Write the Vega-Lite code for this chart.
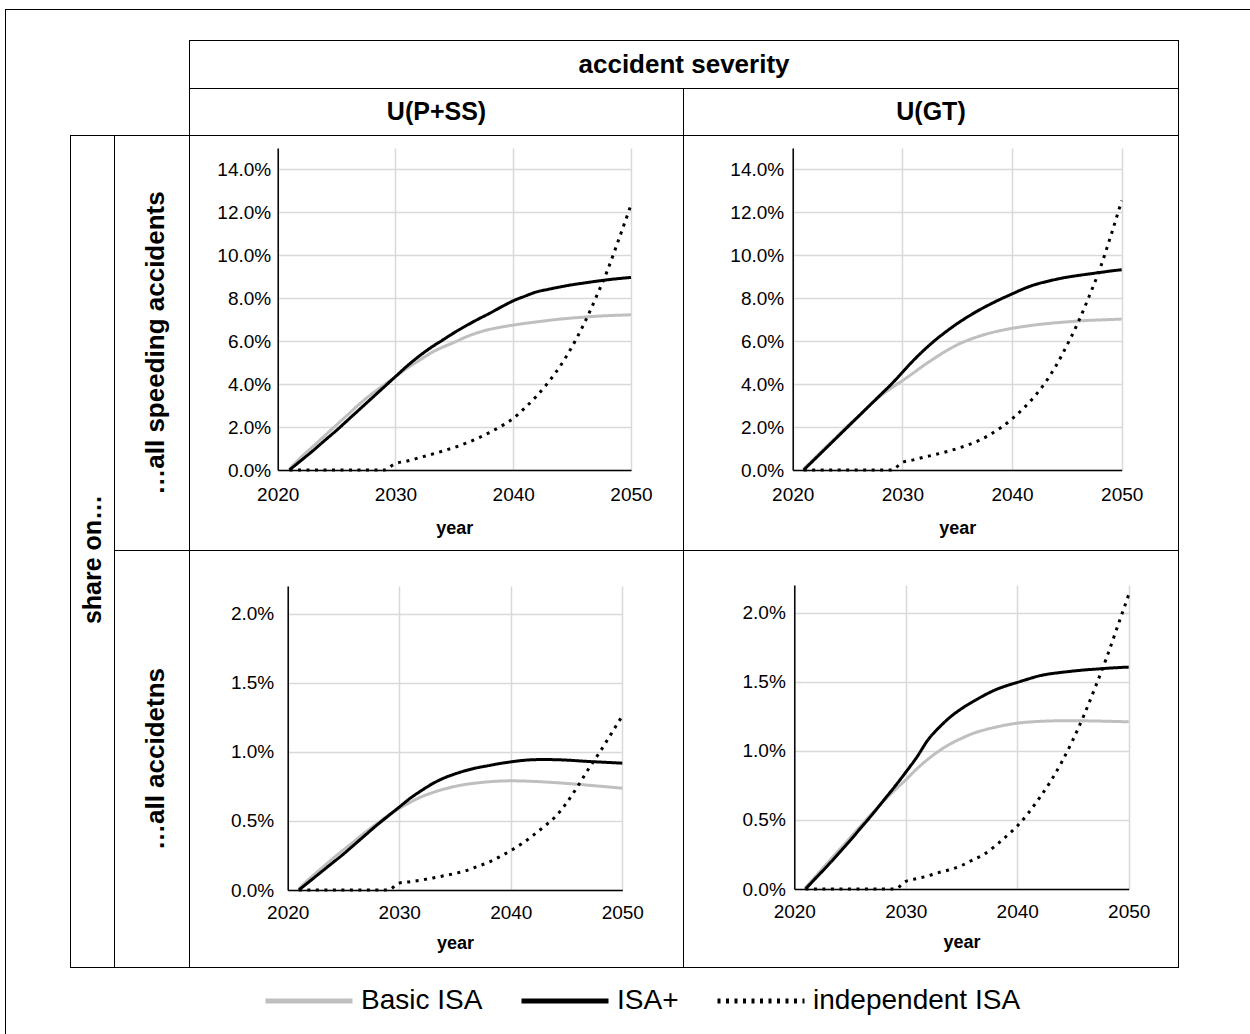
{
"$schema": "https://vega.github.io/schema/vega-lite/v6.json",
"padding": 0,
"background": "white",
"config": {
 "view": {"stroke": null},
 "font": "Liberation Sans",
 "concat": {"spacing": 0},
 "legend": {"orient": "none", "legendX": 263, "legendY": 955, "direction": "horizontal", "symbolType": "stroke", "symbolSize": 7569, "symbolStrokeWidth": 5, "labelFont": "Liberation Sans", "labelFontSize": 28, "labelColor": "#000", "labelOffset": 6, "columnPadding": 28, "padding": 0, "labelLimit": 400}
},
"datasets": {
"series": [
{"p":"a","s":"Basic ISA","year":2021,"v":0.05},{"p":"a","s":"Basic ISA","year":2022,"v":0.6},{"p":"a","s":"Basic ISA","year":2023,"v":1.1},{"p":"a","s":"Basic ISA","year":2024,"v":1.6},{"p":"a","s":"Basic ISA","year":2025,"v":2.1},{"p":"a","s":"Basic ISA","year":2026,"v":2.6},{"p":"a","s":"Basic ISA","year":2027,"v":3.1},{"p":"a","s":"Basic ISA","year":2028,"v":3.55},{"p":"a","s":"Basic ISA","year":2029,"v":3.95},{"p":"a","s":"Basic ISA","year":2030,"v":4.35},{"p":"a","s":"Basic ISA","year":2031,"v":4.75},{"p":"a","s":"Basic ISA","year":2032,"v":5.1},{"p":"a","s":"Basic ISA","year":2033,"v":5.45},{"p":"a","s":"Basic ISA","year":2034,"v":5.72},{"p":"a","s":"Basic ISA","year":2035,"v":5.95},{"p":"a","s":"Basic ISA","year":2036,"v":6.2},{"p":"a","s":"Basic ISA","year":2037,"v":6.4},{"p":"a","s":"Basic ISA","year":2038,"v":6.55},{"p":"a","s":"Basic ISA","year":2039,"v":6.66},{"p":"a","s":"Basic ISA","year":2040,"v":6.75},{"p":"a","s":"Basic ISA","year":2041,"v":6.83},{"p":"a","s":"Basic ISA","year":2042,"v":6.9},{"p":"a","s":"Basic ISA","year":2043,"v":6.97},{"p":"a","s":"Basic ISA","year":2044,"v":7.03},{"p":"a","s":"Basic ISA","year":2045,"v":7.08},{"p":"a","s":"Basic ISA","year":2046,"v":7.12},{"p":"a","s":"Basic ISA","year":2047,"v":7.16},{"p":"a","s":"Basic ISA","year":2048,"v":7.19},{"p":"a","s":"Basic ISA","year":2049,"v":7.21},{"p":"a","s":"Basic ISA","year":2050,"v":7.23},
{"p":"a","s":"ISA+","year":2021,"v":0},{"p":"a","s":"ISA+","year":2022,"v":0.45},{"p":"a","s":"ISA+","year":2023,"v":0.9},{"p":"a","s":"ISA+","year":2024,"v":1.38},{"p":"a","s":"ISA+","year":2025,"v":1.85},{"p":"a","s":"ISA+","year":2026,"v":2.35},{"p":"a","s":"ISA+","year":2027,"v":2.85},{"p":"a","s":"ISA+","year":2028,"v":3.35},{"p":"a","s":"ISA+","year":2029,"v":3.85},{"p":"a","s":"ISA+","year":2030,"v":4.35},{"p":"a","s":"ISA+","year":2031,"v":4.85},{"p":"a","s":"ISA+","year":2032,"v":5.3},{"p":"a","s":"ISA+","year":2033,"v":5.7},{"p":"a","s":"ISA+","year":2034,"v":6.05},{"p":"a","s":"ISA+","year":2035,"v":6.4},{"p":"a","s":"ISA+","year":2036,"v":6.72},{"p":"a","s":"ISA+","year":2037,"v":7.02},{"p":"a","s":"ISA+","year":2038,"v":7.3},{"p":"a","s":"ISA+","year":2039,"v":7.6},{"p":"a","s":"ISA+","year":2040,"v":7.88},{"p":"a","s":"ISA+","year":2041,"v":8.1},{"p":"a","s":"ISA+","year":2042,"v":8.3},{"p":"a","s":"ISA+","year":2043,"v":8.42},{"p":"a","s":"ISA+","year":2044,"v":8.53},{"p":"a","s":"ISA+","year":2045,"v":8.63},{"p":"a","s":"ISA+","year":2046,"v":8.71},{"p":"a","s":"ISA+","year":2047,"v":8.79},{"p":"a","s":"ISA+","year":2048,"v":8.86},{"p":"a","s":"ISA+","year":2049,"v":8.92},{"p":"a","s":"ISA+","year":2050,"v":8.97},
{"p":"a","s":"independent ISA","year":2021,"v":0},{"p":"a","s":"independent ISA","year":2022,"v":0},{"p":"a","s":"independent ISA","year":2023,"v":0},{"p":"a","s":"independent ISA","year":2024,"v":0},{"p":"a","s":"independent ISA","year":2025,"v":0},{"p":"a","s":"independent ISA","year":2026,"v":0},{"p":"a","s":"independent ISA","year":2027,"v":0},{"p":"a","s":"independent ISA","year":2028,"v":0},{"p":"a","s":"independent ISA","year":2029,"v":0},{"p":"a","s":"independent ISA","year":2030,"v":0.3},{"p":"a","s":"independent ISA","year":2031,"v":0.42},{"p":"a","s":"independent ISA","year":2032,"v":0.57},{"p":"a","s":"independent ISA","year":2033,"v":0.72},{"p":"a","s":"independent ISA","year":2034,"v":0.88},{"p":"a","s":"independent ISA","year":2035,"v":1.05},{"p":"a","s":"independent ISA","year":2036,"v":1.25},{"p":"a","s":"independent ISA","year":2037,"v":1.48},{"p":"a","s":"independent ISA","year":2038,"v":1.75},{"p":"a","s":"independent ISA","year":2039,"v":2.05},{"p":"a","s":"independent ISA","year":2040,"v":2.4},{"p":"a","s":"independent ISA","year":2041,"v":2.9},{"p":"a","s":"independent ISA","year":2042,"v":3.45},{"p":"a","s":"independent ISA","year":2043,"v":4.1},{"p":"a","s":"independent ISA","year":2044,"v":4.85},{"p":"a","s":"independent ISA","year":2045,"v":5.75},{"p":"a","s":"independent ISA","year":2046,"v":6.8},{"p":"a","s":"independent ISA","year":2047,"v":8.0},{"p":"a","s":"independent ISA","year":2048,"v":9.3},{"p":"a","s":"independent ISA","year":2049,"v":10.8},{"p":"a","s":"independent ISA","year":2050,"v":12.35},
{"p":"b","s":"Basic ISA","year":2021,"v":0.05},{"p":"b","s":"Basic ISA","year":2022,"v":0.55},{"p":"b","s":"Basic ISA","year":2023,"v":1.05},{"p":"b","s":"Basic ISA","year":2024,"v":1.55},{"p":"b","s":"Basic ISA","year":2025,"v":2.05},{"p":"b","s":"Basic ISA","year":2026,"v":2.5},{"p":"b","s":"Basic ISA","year":2027,"v":3.0},{"p":"b","s":"Basic ISA","year":2028,"v":3.45},{"p":"b","s":"Basic ISA","year":2029,"v":3.82},{"p":"b","s":"Basic ISA","year":2030,"v":4.16},{"p":"b","s":"Basic ISA","year":2031,"v":4.52},{"p":"b","s":"Basic ISA","year":2032,"v":4.89},{"p":"b","s":"Basic ISA","year":2033,"v":5.23},{"p":"b","s":"Basic ISA","year":2034,"v":5.55},{"p":"b","s":"Basic ISA","year":2035,"v":5.83},{"p":"b","s":"Basic ISA","year":2036,"v":6.05},{"p":"b","s":"Basic ISA","year":2037,"v":6.23},{"p":"b","s":"Basic ISA","year":2038,"v":6.38},{"p":"b","s":"Basic ISA","year":2039,"v":6.5},{"p":"b","s":"Basic ISA","year":2040,"v":6.6},{"p":"b","s":"Basic ISA","year":2041,"v":6.68},{"p":"b","s":"Basic ISA","year":2042,"v":6.75},{"p":"b","s":"Basic ISA","year":2043,"v":6.81},{"p":"b","s":"Basic ISA","year":2044,"v":6.86},{"p":"b","s":"Basic ISA","year":2045,"v":6.9},{"p":"b","s":"Basic ISA","year":2046,"v":6.94},{"p":"b","s":"Basic ISA","year":2047,"v":6.97},{"p":"b","s":"Basic ISA","year":2048,"v":6.99},{"p":"b","s":"Basic ISA","year":2049,"v":7.01},{"p":"b","s":"Basic ISA","year":2050,"v":7.03},
{"p":"b","s":"ISA+","year":2021,"v":0},{"p":"b","s":"ISA+","year":2022,"v":0.5},{"p":"b","s":"ISA+","year":2023,"v":1.0},{"p":"b","s":"ISA+","year":2024,"v":1.5},{"p":"b","s":"ISA+","year":2025,"v":2.0},{"p":"b","s":"ISA+","year":2026,"v":2.5},{"p":"b","s":"ISA+","year":2027,"v":3.0},{"p":"b","s":"ISA+","year":2028,"v":3.5},{"p":"b","s":"ISA+","year":2029,"v":4.0},{"p":"b","s":"ISA+","year":2030,"v":4.55},{"p":"b","s":"ISA+","year":2031,"v":5.1},{"p":"b","s":"ISA+","year":2032,"v":5.6},{"p":"b","s":"ISA+","year":2033,"v":6.05},{"p":"b","s":"ISA+","year":2034,"v":6.45},{"p":"b","s":"ISA+","year":2035,"v":6.82},{"p":"b","s":"ISA+","year":2036,"v":7.15},{"p":"b","s":"ISA+","year":2037,"v":7.45},{"p":"b","s":"ISA+","year":2038,"v":7.72},{"p":"b","s":"ISA+","year":2039,"v":7.97},{"p":"b","s":"ISA+","year":2040,"v":8.2},{"p":"b","s":"ISA+","year":2041,"v":8.43},{"p":"b","s":"ISA+","year":2042,"v":8.62},{"p":"b","s":"ISA+","year":2043,"v":8.76},{"p":"b","s":"ISA+","year":2044,"v":8.88},{"p":"b","s":"ISA+","year":2045,"v":8.98},{"p":"b","s":"ISA+","year":2046,"v":9.06},{"p":"b","s":"ISA+","year":2047,"v":9.13},{"p":"b","s":"ISA+","year":2048,"v":9.2},{"p":"b","s":"ISA+","year":2049,"v":9.27},{"p":"b","s":"ISA+","year":2050,"v":9.33},
{"p":"b","s":"independent ISA","year":2021,"v":0},{"p":"b","s":"independent ISA","year":2022,"v":0},{"p":"b","s":"independent ISA","year":2023,"v":0},{"p":"b","s":"independent ISA","year":2024,"v":0},{"p":"b","s":"independent ISA","year":2025,"v":0},{"p":"b","s":"independent ISA","year":2026,"v":0},{"p":"b","s":"independent ISA","year":2027,"v":0},{"p":"b","s":"independent ISA","year":2028,"v":0},{"p":"b","s":"independent ISA","year":2029,"v":0},{"p":"b","s":"independent ISA","year":2030,"v":0.35},{"p":"b","s":"independent ISA","year":2031,"v":0.47},{"p":"b","s":"independent ISA","year":2032,"v":0.6},{"p":"b","s":"independent ISA","year":2033,"v":0.72},{"p":"b","s":"independent ISA","year":2034,"v":0.85},{"p":"b","s":"independent ISA","year":2035,"v":1.0},{"p":"b","s":"independent ISA","year":2036,"v":1.17},{"p":"b","s":"independent ISA","year":2037,"v":1.38},{"p":"b","s":"independent ISA","year":2038,"v":1.65},{"p":"b","s":"independent ISA","year":2039,"v":1.98},{"p":"b","s":"independent ISA","year":2040,"v":2.38},{"p":"b","s":"independent ISA","year":2041,"v":2.85},{"p":"b","s":"independent ISA","year":2042,"v":3.4},{"p":"b","s":"independent ISA","year":2043,"v":4.05},{"p":"b","s":"independent ISA","year":2044,"v":4.85},{"p":"b","s":"independent ISA","year":2045,"v":5.8},{"p":"b","s":"independent ISA","year":2046,"v":6.85},{"p":"b","s":"independent ISA","year":2047,"v":8.05},{"p":"b","s":"independent ISA","year":2048,"v":9.35},{"p":"b","s":"independent ISA","year":2049,"v":10.9},{"p":"b","s":"independent ISA","year":2050,"v":12.55},
{"p":"c","s":"Basic ISA","year":2021,"v":0.01},{"p":"c","s":"Basic ISA","year":2022,"v":0.085},{"p":"c","s":"Basic ISA","year":2023,"v":0.155},{"p":"c","s":"Basic ISA","year":2024,"v":0.225},{"p":"c","s":"Basic ISA","year":2025,"v":0.29},{"p":"c","s":"Basic ISA","year":2026,"v":0.355},{"p":"c","s":"Basic ISA","year":2027,"v":0.42},{"p":"c","s":"Basic ISA","year":2028,"v":0.48},{"p":"c","s":"Basic ISA","year":2029,"v":0.54},{"p":"c","s":"Basic ISA","year":2030,"v":0.59},{"p":"c","s":"Basic ISA","year":2031,"v":0.635},{"p":"c","s":"Basic ISA","year":2032,"v":0.675},{"p":"c","s":"Basic ISA","year":2033,"v":0.705},{"p":"c","s":"Basic ISA","year":2034,"v":0.73},{"p":"c","s":"Basic ISA","year":2035,"v":0.75},{"p":"c","s":"Basic ISA","year":2036,"v":0.765},{"p":"c","s":"Basic ISA","year":2037,"v":0.775},{"p":"c","s":"Basic ISA","year":2038,"v":0.783},{"p":"c","s":"Basic ISA","year":2039,"v":0.788},{"p":"c","s":"Basic ISA","year":2040,"v":0.79},{"p":"c","s":"Basic ISA","year":2041,"v":0.789},{"p":"c","s":"Basic ISA","year":2042,"v":0.786},{"p":"c","s":"Basic ISA","year":2043,"v":0.782},{"p":"c","s":"Basic ISA","year":2044,"v":0.777},{"p":"c","s":"Basic ISA","year":2045,"v":0.771},{"p":"c","s":"Basic ISA","year":2046,"v":0.765},{"p":"c","s":"Basic ISA","year":2047,"v":0.758},{"p":"c","s":"Basic ISA","year":2048,"v":0.751},{"p":"c","s":"Basic ISA","year":2049,"v":0.744},{"p":"c","s":"Basic ISA","year":2050,"v":0.737},
{"p":"c","s":"ISA+","year":2021,"v":0},{"p":"c","s":"ISA+","year":2022,"v":0.065},{"p":"c","s":"ISA+","year":2023,"v":0.13},{"p":"c","s":"ISA+","year":2024,"v":0.195},{"p":"c","s":"ISA+","year":2025,"v":0.26},{"p":"c","s":"ISA+","year":2026,"v":0.33},{"p":"c","s":"ISA+","year":2027,"v":0.4},{"p":"c","s":"ISA+","year":2028,"v":0.47},{"p":"c","s":"ISA+","year":2029,"v":0.535},{"p":"c","s":"ISA+","year":2030,"v":0.6},{"p":"c","s":"ISA+","year":2031,"v":0.665},{"p":"c","s":"ISA+","year":2032,"v":0.72},{"p":"c","s":"ISA+","year":2033,"v":0.77},{"p":"c","s":"ISA+","year":2034,"v":0.81},{"p":"c","s":"ISA+","year":2035,"v":0.84},{"p":"c","s":"ISA+","year":2036,"v":0.865},{"p":"c","s":"ISA+","year":2037,"v":0.885},{"p":"c","s":"ISA+","year":2038,"v":0.9},{"p":"c","s":"ISA+","year":2039,"v":0.915},{"p":"c","s":"ISA+","year":2040,"v":0.927},{"p":"c","s":"ISA+","year":2041,"v":0.937},{"p":"c","s":"ISA+","year":2042,"v":0.943},{"p":"c","s":"ISA+","year":2043,"v":0.944},{"p":"c","s":"ISA+","year":2044,"v":0.943},{"p":"c","s":"ISA+","year":2045,"v":0.94},{"p":"c","s":"ISA+","year":2046,"v":0.935},{"p":"c","s":"ISA+","year":2047,"v":0.93},{"p":"c","s":"ISA+","year":2048,"v":0.926},{"p":"c","s":"ISA+","year":2049,"v":0.922},{"p":"c","s":"ISA+","year":2050,"v":0.918},
{"p":"c","s":"independent ISA","year":2021,"v":0},{"p":"c","s":"independent ISA","year":2022,"v":0},{"p":"c","s":"independent ISA","year":2023,"v":0},{"p":"c","s":"independent ISA","year":2024,"v":0},{"p":"c","s":"independent ISA","year":2025,"v":0},{"p":"c","s":"independent ISA","year":2026,"v":0},{"p":"c","s":"independent ISA","year":2027,"v":0},{"p":"c","s":"independent ISA","year":2028,"v":0},{"p":"c","s":"independent ISA","year":2029,"v":0},{"p":"c","s":"independent ISA","year":2030,"v":0.05},{"p":"c","s":"independent ISA","year":2031,"v":0.06},{"p":"c","s":"independent ISA","year":2032,"v":0.072},{"p":"c","s":"independent ISA","year":2033,"v":0.087},{"p":"c","s":"independent ISA","year":2034,"v":0.103},{"p":"c","s":"independent ISA","year":2035,"v":0.12},{"p":"c","s":"independent ISA","year":2036,"v":0.14},{"p":"c","s":"independent ISA","year":2037,"v":0.17},{"p":"c","s":"independent ISA","year":2038,"v":0.2},{"p":"c","s":"independent ISA","year":2039,"v":0.24},{"p":"c","s":"independent ISA","year":2040,"v":0.285},{"p":"c","s":"independent ISA","year":2041,"v":0.335},{"p":"c","s":"independent ISA","year":2042,"v":0.395},{"p":"c","s":"independent ISA","year":2043,"v":0.46},{"p":"c","s":"independent ISA","year":2044,"v":0.53},{"p":"c","s":"independent ISA","year":2045,"v":0.63},{"p":"c","s":"independent ISA","year":2046,"v":0.75},{"p":"c","s":"independent ISA","year":2047,"v":0.88},{"p":"c","s":"independent ISA","year":2048,"v":1.0},{"p":"c","s":"independent ISA","year":2049,"v":1.13},{"p":"c","s":"independent ISA","year":2050,"v":1.26},
{"p":"d","s":"Basic ISA","year":2021,"v":0.01},{"p":"d","s":"Basic ISA","year":2022,"v":0.1},{"p":"d","s":"Basic ISA","year":2023,"v":0.19},{"p":"d","s":"Basic ISA","year":2024,"v":0.28},{"p":"d","s":"Basic ISA","year":2025,"v":0.37},{"p":"d","s":"Basic ISA","year":2026,"v":0.46},{"p":"d","s":"Basic ISA","year":2027,"v":0.55},{"p":"d","s":"Basic ISA","year":2028,"v":0.635},{"p":"d","s":"Basic ISA","year":2029,"v":0.715},{"p":"d","s":"Basic ISA","year":2030,"v":0.79},{"p":"d","s":"Basic ISA","year":2031,"v":0.87},{"p":"d","s":"Basic ISA","year":2032,"v":0.94},{"p":"d","s":"Basic ISA","year":2033,"v":1.0},{"p":"d","s":"Basic ISA","year":2034,"v":1.05},{"p":"d","s":"Basic ISA","year":2035,"v":1.09},{"p":"d","s":"Basic ISA","year":2036,"v":1.125},{"p":"d","s":"Basic ISA","year":2037,"v":1.15},{"p":"d","s":"Basic ISA","year":2038,"v":1.17},{"p":"d","s":"Basic ISA","year":2039,"v":1.187},{"p":"d","s":"Basic ISA","year":2040,"v":1.2},{"p":"d","s":"Basic ISA","year":2041,"v":1.208},{"p":"d","s":"Basic ISA","year":2042,"v":1.213},{"p":"d","s":"Basic ISA","year":2043,"v":1.216},{"p":"d","s":"Basic ISA","year":2044,"v":1.218},{"p":"d","s":"Basic ISA","year":2045,"v":1.218},{"p":"d","s":"Basic ISA","year":2046,"v":1.217},{"p":"d","s":"Basic ISA","year":2047,"v":1.216},{"p":"d","s":"Basic ISA","year":2048,"v":1.214},{"p":"d","s":"Basic ISA","year":2049,"v":1.212},{"p":"d","s":"Basic ISA","year":2050,"v":1.21},
{"p":"d","s":"ISA+","year":2021,"v":0},{"p":"d","s":"ISA+","year":2022,"v":0.085},{"p":"d","s":"ISA+","year":2023,"v":0.17},{"p":"d","s":"ISA+","year":2024,"v":0.26},{"p":"d","s":"ISA+","year":2025,"v":0.35},{"p":"d","s":"ISA+","year":2026,"v":0.445},{"p":"d","s":"ISA+","year":2027,"v":0.54},{"p":"d","s":"ISA+","year":2028,"v":0.64},{"p":"d","s":"ISA+","year":2029,"v":0.74},{"p":"d","s":"ISA+","year":2030,"v":0.845},{"p":"d","s":"ISA+","year":2031,"v":0.955},{"p":"d","s":"ISA+","year":2032,"v":1.08},{"p":"d","s":"ISA+","year":2033,"v":1.17},{"p":"d","s":"ISA+","year":2034,"v":1.245},{"p":"d","s":"ISA+","year":2035,"v":1.305},{"p":"d","s":"ISA+","year":2036,"v":1.355},{"p":"d","s":"ISA+","year":2037,"v":1.4},{"p":"d","s":"ISA+","year":2038,"v":1.44},{"p":"d","s":"ISA+","year":2039,"v":1.47},{"p":"d","s":"ISA+","year":2040,"v":1.495},{"p":"d","s":"ISA+","year":2041,"v":1.52},{"p":"d","s":"ISA+","year":2042,"v":1.543},{"p":"d","s":"ISA+","year":2043,"v":1.558},{"p":"d","s":"ISA+","year":2044,"v":1.568},{"p":"d","s":"ISA+","year":2045,"v":1.577},{"p":"d","s":"ISA+","year":2046,"v":1.585},{"p":"d","s":"ISA+","year":2047,"v":1.591},{"p":"d","s":"ISA+","year":2048,"v":1.597},{"p":"d","s":"ISA+","year":2049,"v":1.602},{"p":"d","s":"ISA+","year":2050,"v":1.606},
{"p":"d","s":"independent ISA","year":2021,"v":0},{"p":"d","s":"independent ISA","year":2022,"v":0},{"p":"d","s":"independent ISA","year":2023,"v":0},{"p":"d","s":"independent ISA","year":2024,"v":0},{"p":"d","s":"independent ISA","year":2025,"v":0},{"p":"d","s":"independent ISA","year":2026,"v":0},{"p":"d","s":"independent ISA","year":2027,"v":0},{"p":"d","s":"independent ISA","year":2028,"v":0},{"p":"d","s":"independent ISA","year":2029,"v":0},{"p":"d","s":"independent ISA","year":2030,"v":0.055},{"p":"d","s":"independent ISA","year":2031,"v":0.075},{"p":"d","s":"independent ISA","year":2032,"v":0.095},{"p":"d","s":"independent ISA","year":2033,"v":0.12},{"p":"d","s":"independent ISA","year":2034,"v":0.14},{"p":"d","s":"independent ISA","year":2035,"v":0.17},{"p":"d","s":"independent ISA","year":2036,"v":0.21},{"p":"d","s":"independent ISA","year":2037,"v":0.25},{"p":"d","s":"independent ISA","year":2038,"v":0.31},{"p":"d","s":"independent ISA","year":2039,"v":0.38},{"p":"d","s":"independent ISA","year":2040,"v":0.455},{"p":"d","s":"independent ISA","year":2041,"v":0.55},{"p":"d","s":"independent ISA","year":2042,"v":0.66},{"p":"d","s":"independent ISA","year":2043,"v":0.78},{"p":"d","s":"independent ISA","year":2044,"v":0.92},{"p":"d","s":"independent ISA","year":2045,"v":1.08},{"p":"d","s":"independent ISA","year":2046,"v":1.26},{"p":"d","s":"independent ISA","year":2047,"v":1.46},{"p":"d","s":"independent ISA","year":2048,"v":1.67},{"p":"d","s":"independent ISA","year":2049,"v":1.9},{"p":"d","s":"independent ISA","year":2050,"v":2.13}
]
},
"vconcat": [
 {"width": 1250, "height": 9, "data": {"values": []}, "mark": "text", "encoding": {}},
 {"hconcat": [
  {"width": 5, "height": 1, "data": {"values": []}, "mark": "text", "encoding": {}},
  {"width": 1245, "height": 1, "view": {"fill": "#000"}, "data": {"values": []}, "mark": "text", "encoding": {}}
 ]},
 {"hconcat": [
  {"width": 5, "height": 1024, "data": {"values": []}, "mark": "text", "encoding": {}},
  {"width": 1, "height": 1024, "view": {"fill": "#000"}, "data": {"values": []}, "mark": "text", "encoding": {}},
  {"vconcat": [
   {"width": 1244, "height": 30, "data": {"values": []}, "mark": "text", "encoding": {}},
   {"hconcat": [
    {"width": 64, "height": 928, "data": {"values": []}, "mark": "text", "encoding": {}},
    {"vconcat": [
     {"hconcat": [
      {"width": 119, "height": 1, "data": {"values": []}, "mark": "text", "encoding": {}},
      {"width": 990, "height": 1, "view": {"fill": "#000"}, "data": {"values": []}, "mark": "text", "encoding": {}}
     ]},
     {"hconcat": [
      {"width": 119, "height": 47, "data": {"values": []}, "mark": "text", "encoding": {}},
      {"width": 1, "height": 47, "view": {"fill": "#000"}, "data": {"values": []}, "mark": "text", "encoding": {}},
      {"width": 988, "height": 47, "data": {"values": [{"t": "accident severity"}]}, "mark": {"type": "text", "fontSize": 26, "fontWeight": "bold", "color": "#000"}, "encoding": {"text": {"field": "t", "type": "nominal"}}},
      {"width": 1, "height": 47, "view": {"fill": "#000"}, "data": {"values": []}, "mark": "text", "encoding": {}}
     ]},
     {"hconcat": [
      {"width": 119, "height": 1, "data": {"values": []}, "mark": "text", "encoding": {}},
      {"width": 990, "height": 1, "view": {"fill": "#000"}, "data": {"values": []}, "mark": "text", "encoding": {}}
     ]},
     {"hconcat": [
      {"width": 119, "height": 46, "data": {"values": []}, "mark": "text", "encoding": {}},
      {"width": 1, "height": 46, "view": {"fill": "#000"}, "data": {"values": []}, "mark": "text", "encoding": {}},
      {"width": 493, "height": 46, "data": {"values": [{"t": "U(P+SS)"}]}, "mark": {"type": "text", "fontSize": 25, "fontWeight": "bold", "color": "#000"}, "encoding": {"text": {"field": "t", "type": "nominal"}}},
      {"width": 1, "height": 46, "view": {"fill": "#000"}, "data": {"values": []}, "mark": "text", "encoding": {}},
      {"width": 494, "height": 46, "data": {"values": [{"t": "U(GT)"}]}, "mark": {"type": "text", "fontSize": 25, "fontWeight": "bold", "color": "#000"}, "encoding": {"text": {"field": "t", "type": "nominal"}}},
      {"width": 1, "height": 46, "view": {"fill": "#000"}, "data": {"values": []}, "mark": "text", "encoding": {}}
     ]},
     {"width": 1109, "height": 1, "view": {"fill": "#000"}, "data": {"values": []}, "mark": "text", "encoding": {}},
     {"hconcat": [
      {"width": 1, "height": 831, "view": {"fill": "#000"}, "data": {"values": []}, "mark": "text", "encoding": {}},
      {"width": 43, "height": 831, "data": {"values": [{"t": "share on…"}]}, "mark": {"type": "text", "angle": 270, "fontSize": 25, "fontWeight": "bold", "color": "#000", "dx": -8}, "encoding": {"text": {"field": "t", "type": "nominal"}}},
      {"width": 1, "height": 831, "view": {"fill": "#000"}, "data": {"values": []}, "mark": "text", "encoding": {}},
      {"vconcat": [
       {"hconcat": [
        {"width": 74, "height": 414, "data": {"values": [{"t": "…all speeding accidents"}]}, "mark": {"type": "text", "angle": 270, "fontSize": 26, "fontWeight": "bold", "color": "#000", "dy": 4}, "encoding": {"text": {"field": "t", "type": "nominal"}}},
        {"width": 1, "height": 414, "view": {"fill": "#000"}, "data": {"values": []}, "mark": "text", "encoding": {}},
        {
         "width": 493, "height": 414,
         "data": {"name": "series"},
         "transform": [{"filter": "datum.p === 'a'"}],
         "encoding": {
          "y": {"field": "v", "type": "quantitative", "scale": {"domain": [0, 15], "range": [334, 12], "nice": false, "zero": true},
                "axis": {"orient": "left", "offset": -87.7, "values": [0,2,4,6,8,10,12,14], "labelExpr": "format(datum.value, '.1f') + '%'", "grid": true, "gridColor": "#d9d9d9", "gridWidth": 1.5, "ticks": false, "domainColor": "#000", "domainWidth": 1.5, "labelFontSize": 19, "labelColor": "#000", "labelPadding": 7, "title": null, "minExtent": 0}},
          "color": {"field": "s", "type": "nominal", "scale": {"domain": ["Basic ISA", "ISA+", "independent ISA"], "range": ["#bfbfbf", "#000000", "#000000"]}, "legend": {"title": null}},
          "strokeDash": {"field": "s", "type": "nominal", "scale": {"domain": ["Basic ISA", "ISA+", "independent ISA"], "range": [[1, 0], [1, 0], [3, 5.5]]}, "legend": {"title": null}}
         },
         "layer": [
          {"transform": [{"filter": "datum.s !== 'independent ISA'"}],
           "mark": {"type": "line", "strokeWidth": 3, "interpolate": "monotone"},
           "encoding": {"x": {"field": "year", "type": "quantitative", "scale": {"domain": [2020, 2050], "range": [87.7, 441], "nice": false, "zero": false},
             "axis": {"orient": "top", "values": [2020, 2030, 2040, 2050], "grid": true, "gridColor": "#d9d9d9", "gridWidth": 1.5, "labels": false, "ticks": false, "domain": false, "title": null, "minExtent": 0}}}},
          {"transform": [{"filter": "datum.s === 'independent ISA'"}],
           "mark": {"type": "line", "strokeWidth": 3, "interpolate": "monotone"},
           "encoding": {"x": {"field": "year", "type": "quantitative", "scale": {"domain": [2020, 2050], "range": [87.7, 441], "nice": false, "zero": false},
             "axis": {"orient": "bottom", "offset": -80, "values": [2020, 2030, 2040, 2050], "format": "d", "grid": false, "ticks": false, "domainColor": "#000", "domainWidth": 1.5, "labelFontSize": 19, "labelColor": "#000", "labelPadding": 15, "labelFlush": false, "title": "year", "titleFontSize": 18, "titleFontWeight": "bold", "titleColor": "#000", "titlePadding": 15, "minExtent": 0}}}}
         ],
         "resolve": {"axis": {"x": "independent"}}
        },
        {"width": 1, "height": 414, "view": {"fill": "#000"}, "data": {"values": []}, "mark": "text", "encoding": {}},
        {
         "width": 494, "height": 414,
         "data": {"name": "series"},
         "transform": [{"filter": "datum.p === 'b'"}],
         "encoding": {
          "y": {"field": "v", "type": "quantitative", "scale": {"domain": [0, 15], "range": [334, 12], "nice": false, "zero": true},
                "axis": {"orient": "left", "offset": -108.7, "values": [0,2,4,6,8,10,12,14], "labelExpr": "format(datum.value, '.1f') + '%'", "grid": true, "gridColor": "#d9d9d9", "gridWidth": 1.5, "ticks": false, "domainColor": "#000", "domainWidth": 1.5, "labelFontSize": 19, "labelColor": "#000", "labelPadding": 9, "title": null, "minExtent": 0}},
          "color": {"field": "s", "type": "nominal", "scale": {"domain": ["Basic ISA", "ISA+", "independent ISA"], "range": ["#bfbfbf", "#000000", "#000000"]}, "legend": {"title": null}},
          "strokeDash": {"field": "s", "type": "nominal", "scale": {"domain": ["Basic ISA", "ISA+", "independent ISA"], "range": [[1, 0], [1, 0], [3, 5.5]]}, "legend": {"title": null}}
         },
         "layer": [
          {"transform": [{"filter": "datum.s !== 'independent ISA'"}],
           "mark": {"type": "line", "strokeWidth": 3, "interpolate": "monotone"},
           "encoding": {"x": {"field": "year", "type": "quantitative", "scale": {"domain": [2020, 2050], "range": [108.7, 437.7], "nice": false, "zero": false},
             "axis": {"orient": "top", "values": [2020, 2030, 2040, 2050], "grid": true, "gridColor": "#d9d9d9", "gridWidth": 1.5, "labels": false, "ticks": false, "domain": false, "title": null, "minExtent": 0}}}},
          {"transform": [{"filter": "datum.s === 'independent ISA'"}],
           "mark": {"type": "line", "strokeWidth": 3, "interpolate": "monotone"},
           "encoding": {"x": {"field": "year", "type": "quantitative", "scale": {"domain": [2020, 2050], "range": [108.7, 437.7], "nice": false, "zero": false},
             "axis": {"orient": "bottom", "offset": -80, "values": [2020, 2030, 2040, 2050], "format": "d", "grid": false, "ticks": false, "domainColor": "#000", "domainWidth": 1.5, "labelFontSize": 19, "labelColor": "#000", "labelPadding": 15, "labelFlush": false, "title": "year", "titleFontSize": 18, "titleFontWeight": "bold", "titleColor": "#000", "titlePadding": 15, "minExtent": 0}}}}
         ],
         "resolve": {"axis": {"x": "independent"}}
        },
        {"width": 1, "height": 414, "view": {"fill": "#000"}, "data": {"values": []}, "mark": "text", "encoding": {}}
       ]},
       {"width": 1064, "height": 1, "view": {"fill": "#000"}, "data": {"values": []}, "mark": "text", "encoding": {}},
       {"hconcat": [
        {"width": 74, "height": 416, "data": {"values": [{"t": "…all accidetns"}]}, "mark": {"type": "text", "angle": 270, "fontSize": 26, "fontWeight": "bold", "color": "#000", "dy": 4}, "encoding": {"text": {"field": "t", "type": "nominal"}}},
        {"width": 1, "height": 416, "view": {"fill": "#000"}, "data": {"values": []}, "mark": "text", "encoding": {}},
        {
         "width": 493, "height": 416,
         "data": {"name": "series"},
         "transform": [{"filter": "datum.p === 'c'"}],
         "encoding": {
          "y": {"field": "v", "type": "quantitative", "scale": {"domain": [0, 2.2], "range": [339, 35], "nice": false, "zero": true},
                "axis": {"orient": "left", "offset": -97.7, "values": [0, 0.5, 1, 1.5, 2], "labelExpr": "format(datum.value, '.1f') + '%'", "grid": true, "gridColor": "#d9d9d9", "gridWidth": 1.5, "ticks": false, "domainColor": "#000", "domainWidth": 1.5, "labelFontSize": 19, "labelColor": "#000", "labelPadding": 14, "title": null, "minExtent": 0}},
          "color": {"field": "s", "type": "nominal", "scale": {"domain": ["Basic ISA", "ISA+", "independent ISA"], "range": ["#bfbfbf", "#000000", "#000000"]}, "legend": {"title": null}},
          "strokeDash": {"field": "s", "type": "nominal", "scale": {"domain": ["Basic ISA", "ISA+", "independent ISA"], "range": [[1, 0], [1, 0], [3, 5.5]]}, "legend": {"title": null}}
         },
         "layer": [
          {"transform": [{"filter": "datum.s !== 'independent ISA'"}],
           "mark": {"type": "line", "strokeWidth": 3, "interpolate": "monotone"},
           "encoding": {"x": {"field": "year", "type": "quantitative", "scale": {"domain": [2020, 2050], "range": [97.7, 432.3], "nice": false, "zero": false},
             "axis": {"orient": "top", "values": [2020, 2030, 2040, 2050], "grid": true, "gridColor": "#d9d9d9", "gridWidth": 1.5, "labels": false, "ticks": false, "domain": false, "title": null, "minExtent": 0}}}},
          {"transform": [{"filter": "datum.s === 'independent ISA'"}],
           "mark": {"type": "line", "strokeWidth": 3, "interpolate": "monotone"},
           "encoding": {"x": {"field": "year", "type": "quantitative", "scale": {"domain": [2020, 2050], "range": [97.7, 432.3], "nice": false, "zero": false},
             "axis": {"orient": "bottom", "offset": -77, "values": [2020, 2030, 2040, 2050], "format": "d", "grid": false, "ticks": false, "domainColor": "#000", "domainWidth": 1.5, "labelFontSize": 19, "labelColor": "#000", "labelPadding": 13, "labelFlush": false, "title": "year", "titleFontSize": 18, "titleFontWeight": "bold", "titleColor": "#000", "titlePadding": 12, "minExtent": 0}}}}
         ],
         "resolve": {"axis": {"x": "independent"}}
        },
        {"width": 1, "height": 416, "view": {"fill": "#000"}, "data": {"values": []}, "mark": "text", "encoding": {}},
        {
         "width": 494, "height": 416,
         "data": {"name": "series"},
         "transform": [{"filter": "datum.p === 'd'"}],
         "encoding": {
          "y": {"field": "v", "type": "quantitative", "scale": {"domain": [0, 2.2], "range": [338, 34], "nice": false, "zero": true},
                "axis": {"orient": "left", "offset": -110.3, "values": [0, 0.5, 1, 1.5, 2], "labelExpr": "format(datum.value, '.1f') + '%'", "grid": true, "gridColor": "#d9d9d9", "gridWidth": 1.5, "ticks": false, "domainColor": "#000", "domainWidth": 1.5, "labelFontSize": 19, "labelColor": "#000", "labelPadding": 9, "title": null, "minExtent": 0}},
          "color": {"field": "s", "type": "nominal", "scale": {"domain": ["Basic ISA", "ISA+", "independent ISA"], "range": ["#bfbfbf", "#000000", "#000000"]}, "legend": {"title": null}},
          "strokeDash": {"field": "s", "type": "nominal", "scale": {"domain": ["Basic ISA", "ISA+", "independent ISA"], "range": [[1, 0], [1, 0], [3, 5.5]]}, "legend": {"title": null}}
         },
         "layer": [
          {"transform": [{"filter": "datum.s !== 'independent ISA'"}],
           "mark": {"type": "line", "strokeWidth": 3, "interpolate": "monotone"},
           "encoding": {"x": {"field": "year", "type": "quantitative", "scale": {"domain": [2020, 2050], "range": [110.3, 444.7], "nice": false, "zero": false},
             "axis": {"orient": "top", "values": [2020, 2030, 2040, 2050], "grid": true, "gridColor": "#d9d9d9", "gridWidth": 1.5, "labels": false, "ticks": false, "domain": false, "title": null, "minExtent": 0}}}},
          {"transform": [{"filter": "datum.s === 'independent ISA'"}],
           "mark": {"type": "line", "strokeWidth": 3, "interpolate": "monotone"},
           "encoding": {"x": {"field": "year", "type": "quantitative", "scale": {"domain": [2020, 2050], "range": [110.3, 444.7], "nice": false, "zero": false},
             "axis": {"orient": "bottom", "offset": -78, "values": [2020, 2030, 2040, 2050], "format": "d", "grid": false, "ticks": false, "domainColor": "#000", "domainWidth": 1.5, "labelFontSize": 19, "labelColor": "#000", "labelPadding": 13, "labelFlush": false, "title": "year", "titleFontSize": 18, "titleFontWeight": "bold", "titleColor": "#000", "titlePadding": 12, "minExtent": 0}}}}
         ],
         "resolve": {"axis": {"x": "independent"}}
        },
        {"width": 1, "height": 416, "view": {"fill": "#000"}, "data": {"values": []}, "mark": "text", "encoding": {}}
       ]}
      ]}
     ]},
     {"width": 1109, "height": 1, "view": {"fill": "#000"}, "data": {"values": []}, "mark": "text", "encoding": {}}
    ]}
   ]},
   {"width": 1244, "height": 66, "data": {"values": []}, "mark": "text", "encoding": {}}
  ]}
 ]}
]
}
